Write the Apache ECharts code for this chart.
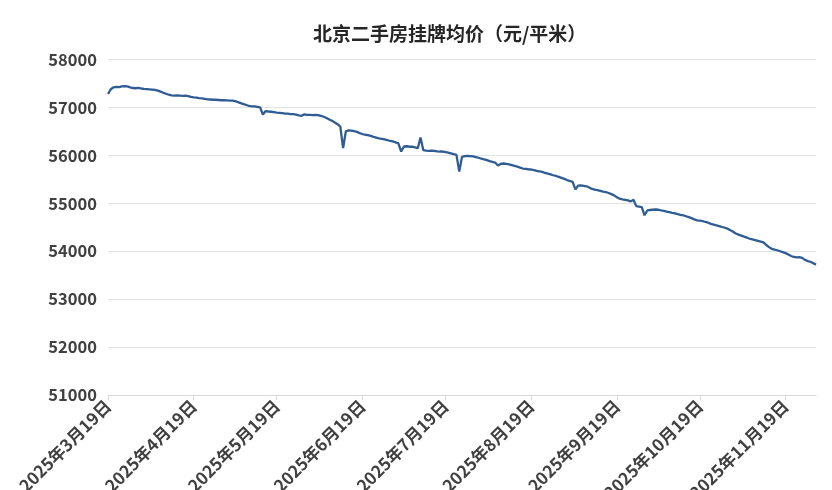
<!DOCTYPE html>
<html>
<head>
<meta charset="utf-8">
<script src="https://cdn.jsdelivr.net/npm/echarts@6/dist/echarts.min.js"></script>
<style>
html,body{margin:0;padding:0;background:#fff;}
#chart{width:832px;height:490px;}
</style>
</head>
<body>
<div id="chart"></div>
<script>
// Daily asking price (元/平米), 2025
const year = 2025;
const mar = [57280,57380,57420,57430,57425,57440,57445,57440,57420,57405,57400,57410,57395]; // Mar 19-31
const apr = [57385,57380,57375,57370,57365,57350,57330,57305,57285,57265,57250,57245,57250,57245,57240,57245,57235,57220,57210,57205,57195,57190,57180,57170,57165,57160,57160,57155,57150,57150];
const may = [57145,57140,57140,57130,57110,57090,57070,57050,57030,57020,57020,57010,57000,56850,56925,56915,56910,56900,56890,56885,56880,56870,56870,56860,56860,56850,56835,56825,56855,56845,56845];
const jun = [56840,56845,56840,56825,56805,56780,56750,56720,56685,56650,56600,56150,56500,56520,56515,56505,56490,56465,56445,56430,56420,56405,56385,56370,56355,56345,56335,56320,56300,56290];
const jul = [56270,56250,56080,56185,56190,56180,56180,56165,56150,56370,56110,56100,56095,56100,56095,56085,56080,56080,56070,56055,56040,56025,56010,55660,55970,55985,55990,55985,55980,55965,55950];
const aug = [55930,55915,55900,55880,55865,55850,55790,55820,55830,55820,55810,55795,55780,55765,55745,55725,55720,55710,55705,55690,55675,55665,55655,55635,55620,55605,55585,55570,55550,55530,55510];
const sep = [55485,55465,55445,55290,55370,55375,55365,55355,55330,55300,55285,55275,55260,55245,55235,55215,55190,55165,55125,55095,55080,55070,55060,55040,55075,54940,54930,54920,54750,54850];
const oct = [54860,54865,54870,54865,54850,54840,54825,54815,54800,54790,54775,54760,54750,54730,54710,54690,54665,54645,54640,54630,54610,54595,54570,54555,54540,54525,54505,54490,54470,54440,54405];
const nov = [54370,54345,54325,54305,54285,54260,54245,54230,54215,54200,54185,54130,54085,54050,54035,54020,54000,53980,53960,53930,53900,53880,53870,53875,53860,53820,53795,53780,53750,53720];

const months = [
  {m:3, start:19, vals:mar},{m:4, start:1, vals:apr},{m:5, start:1, vals:may},
  {m:6, start:1, vals:jun},{m:7, start:1, vals:jul},{m:8, start:1, vals:aug},
  {m:9, start:1, vals:sep},{m:10, start:1, vals:oct},{m:11, start:1, vals:nov}
];
const yTicks = [51000, 52000, 53000, 54000, 55000, 56000, 57000, 58000];

const categories = [];
const values = [];
months.forEach(function(g){
  g.vals.forEach(function(v, i){
    categories.push(year + '年' + g.m + '月' + (g.start + i) + '日');
    values.push(v);
  });
});
function isLabelDay(idx){
  return /月19日$/.test(categories[idx]);
}

const chart = echarts.init(document.getElementById('chart'), null, {renderer:'canvas'});
chart.setOption({
  backgroundColor: '#ffffff',
  animation: false,
  title: {
    text: '北京二手房挂牌均价（元/平米）',
    left: 308, top: 19,
    textStyle: {fontFamily: 'Noto Sans CJK SC', fontSize: 19, fontWeight: 'bold', color: '#262626'}
  },
  grid: {left: 108, right: 16, top: 59.5, bottom: 95, containLabel: false, outerBoundsMode: 'none'},
  xAxis: {
    type: 'category',
    data: categories,
    boundaryGap: false,
    axisLine: {show: true, lineStyle: {color: '#d9d9d9', width: 1}},
    axisTick: {show: true, length: 5, lineStyle: {color: '#d9d9d9'}, interval: function(i){ return isLabelDay(i); }},
    axisLabel: {
      interval: function(i){ return isLabelDay(i); },
      rotate: 45, margin: 8,
      fontFamily: 'Noto Sans CJK SC', fontSize: 17, fontWeight: 'bold', color: '#404040'
    },
    splitLine: {show: false}
  },
  yAxis: {
    type: 'value',
    min: yTicks[0], max: yTicks[yTicks.length - 1], interval: 1000,
    axisLine: {show: false},
    axisTick: {show: false},
    axisLabel: {
      margin: 11, fontFamily: 'Noto Sans CJK SC', fontSize: 16.5, fontWeight: 'bold', color: '#404040',
      formatter: function(v){ return String(v); }
    },
    splitLine: {show: true, lineStyle: {color: '#e3e3e3', width: 1}}
  },
  series: [{
    type: 'line',
    data: values,
    showSymbol: false,
    symbol: 'none',
    lineStyle: {color: '#2f5d93', width: 2.3},
    itemStyle: {color: '#2f5d93'}
  }]
});
</script>
</body>
</html>
